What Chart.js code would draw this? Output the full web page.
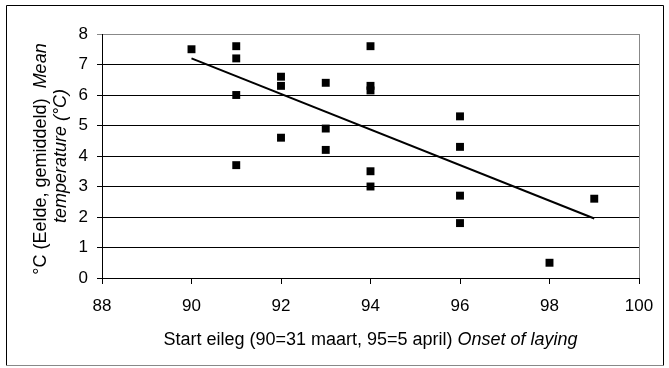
<!DOCTYPE html>
<html>
<head>
<meta charset="utf-8">
<script src="https://cdn.jsdelivr.net/npm/chart.js@4.4.1/dist/chart.umd.min.js"></script>
<style>
  html, body { margin: 0; padding: 0; background: #fff; }
  #wrap { position: relative; width: 669px; height: 368px; }
</style>
</head>
<body>
<div id="wrap"><canvas id="chart" width="669" height="368"></canvas></div>
<script>
// onset of laying (day number) and mean temperature
const startDay = [90, 91, 91, 91, 91, 92, 92, 92, 93, 93, 93, 94, 94, 94, 94, 94, 96, 96, 96, 96, 98, 99];
const meanTemp = [7.5, 7.6, 7.2, 6.0, 3.7, 6.6, 6.3, 4.6, 6.4, 4.9, 4.2, 7.6, 6.3, 6.15, 3.5, 3.0, 5.3, 4.3, 2.7, 1.8, 0.5, 2.6];

// trend line end points
const trendX = [90, 99];
const trendY = [7.2, 1.95];

const xTicks = [88, 90, 92, 94, 96, 98, 100];
const yTicks = [0, 1, 2, 3, 4, 5, 6, 7, 8];

const FONT = "'Liberation Sans', Arial, sans-serif";

const points = startDay.map((d, i) => ({ x: d, y: meanTemp[i] }));
const trend = trendX.map((d, i) => ({ x: d, y: trendY[i] }));

// frame, right edge of plot and the mixed normal/italic axis titles
const decorations = {
  id: "decorations",
  beforeDraw(chart) {
    const c = chart.ctx;
    c.save();
    c.fillStyle = "#fff";
    c.fillRect(0, 0, chart.width, chart.height);
    c.restore();
  },
  afterDraw(chart) {
    const c = chart.ctx;
    const a = chart.chartArea;
    c.save();
    // outer box
    c.strokeStyle = "#000";
    c.lineWidth = 1;
    c.beginPath();
    c.moveTo(6.5, 365.5);
    c.lineTo(6.5, 5.5);
    c.lineTo(663.5, 5.5);
    c.lineTo(663.5, 365.5);
    c.stroke();
    c.strokeStyle = "#888";
    c.beginPath();
    c.moveTo(6.5, 365.5);
    c.lineTo(663.5, 365.5);
    c.stroke();
    // right side of plot area
    c.beginPath();
    c.moveTo(Math.round(a.right) + 0.5, a.top);
    c.lineTo(Math.round(a.right) + 0.5, a.bottom);
    c.stroke();

    c.fillStyle = "#000";
    c.textBaseline = "middle";
    const normal = "18px " + FONT;
    const italic = "italic 18px " + FONT;

    // x title
    const xa = "Start eileg (90=31 maart, 95=5 april) ";
    const xb = "Onset of laying";
    c.font = normal; const wa = c.measureText(xa).width;
    c.font = italic; const wb = c.measureText(xb).width;
    let sx = (a.left + a.right) / 2 - (wa + wb) / 2;
    c.textAlign = "left";
    c.font = normal; c.fillText(xa, sx, 340);
    c.font = italic; c.fillText(xb, sx + wa, 340);

    // y title, two lines rotated
    c.translate(41, 159);
    c.rotate(-Math.PI / 2);
    const ya = "\u00B0C (Eelde, gemiddeld)  ";
    const yb = "Mean";
    c.font = normal; const ha = c.measureText(ya).width;
    c.font = italic; const hb = c.measureText(yb).width;
    sx = -(ha + hb) / 2;
    c.font = normal; c.fillText(ya, sx, 0);
    c.font = italic; c.fillText(yb, sx + ha, 0);
    c.textAlign = "center";
    c.fillText("temperature (\u00B0C)", 3, 20);
    c.restore();
  }
};

new Chart(document.getElementById("chart"), {
  type: "scatter",
  data: {
    datasets: [
      {
        label: "Temperature",
        data: points,
        pointStyle: "rect",
        pointRadius: 5.6,
        pointHoverRadius: 5.6,
        borderWidth: 0,
        backgroundColor: "#000",
        borderColor: "#000"
      },
      {
        label: "Trend",
        type: "line",
        data: trend,
        borderColor: "#000",
        borderWidth: 2,
        pointRadius: 0,
        fill: false
      }
    ]
  },
  options: {
    responsive: false,
    animation: false,
    devicePixelRatio: 1,
    layout: { padding: { left: 0, top: 34, right: 30, bottom: 0 } },
    plugins: {
      legend: { display: false },
      tooltip: { enabled: false }
    },
    scales: {
      x: {
        type: "linear",
        min: 88,
        max: 100,
        afterBuildTicks: (s) => { s.ticks = xTicks.map(v => ({ value: v })); },
        afterFit: (s) => { s.height = 90; },
        ticks: {
          color: "#000",
          font: { family: FONT, size: 17 },
          padding: 12
        },
        grid: {
          drawOnChartArea: false,
          drawTicks: true,
          tickLength: 6,
          color: "#000"
        },
        border: { color: "#000", width: 1 }
      },
      y: {
        min: 0,
        max: 8,
        afterBuildTicks: (s) => { s.ticks = yTicks.map(v => ({ value: v })); },
        afterFit: (s) => { s.width = 102; },
        ticks: {
          color: "#000",
          font: { family: FONT, size: 17 },
          padding: 9
        },
        grid: {
          color: (ctx) => (ctx.tick && ctx.tick.value === 8 ? "#888" : "#000"),
          lineWidth: 1,
          tickLength: 5
        },
        border: { color: "#000", width: 1 }
      }
    }
  },
  plugins: [decorations]
});
</script>
</body>
</html>
